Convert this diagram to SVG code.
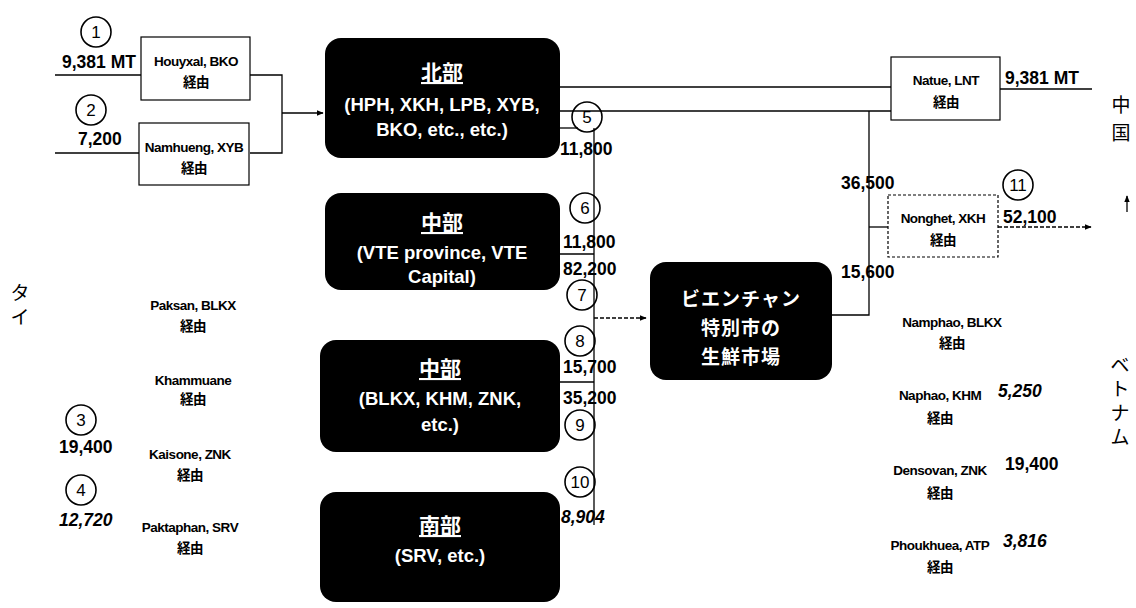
<svg xmlns="http://www.w3.org/2000/svg" width="1136" height="608" viewBox="0 0 1136 608">
<defs>
<marker id="ah" viewBox="0 0 10 10" refX="9" refY="5" markerWidth="7" markerHeight="7" orient="auto" markerUnits="userSpaceOnUse">
<path d="M0,1 L10,5 L0,9 z" fill="#000"/>
</marker>
<style>
text{font-family:"Liberation Sans",Arial,"Noto Sans CJK JP",sans-serif;fill:#000}
.sm{font-size:13.5px;font-weight:bold;text-anchor:middle;letter-spacing:-0.5px}
.num{font-size:17.5px;font-weight:bold}
.it{font-style:italic}
.cn{font-size:17px;text-anchor:middle}
.big{font-size:18.5px;font-weight:bold;fill:#fff;text-anchor:middle}
.hd{font-size:21px;font-weight:bold;fill:#fff;text-anchor:middle;text-decoration:underline}
.mk{font-size:19px;font-weight:bold;fill:#fff;text-anchor:middle;letter-spacing:1px}
.cty{font-size:19px;text-anchor:middle}
.bx{fill:#fff;stroke:#000;stroke-width:1.2}
.dbx{fill:#fff;stroke:#000;stroke-width:1.2;stroke-dasharray:3 2}
.blk{fill:#000}
.c{fill:none;stroke:#000;stroke-width:1.6}
.ln{fill:none;stroke:#000;stroke-width:1.3}
</style>
</defs>
<rect width="1136" height="608" fill="#fff"/>

<g id="connectors">
<path class="ln" d="M55,75 H141"/>
<path class="ln" d="M55,153 H139"/>
<path class="ln" d="M250,75 H282 V153 H250"/>
<path class="ln" d="M282,113 H323" stroke-width="2" marker-end="url(#ah)"/>
<path class="ln" d="M560,87 H891"/>
<path class="ln" d="M560,111 H891"/>
<path class="ln" d="M1000,89 H1092"/>
<path class="ln" d="M869,111 V315 H832"/>
<path class="ln" d="M869,227 H888"/>
<path class="ln" d="M998,227 H1091" stroke-dasharray="4 2" marker-end="url(#ah)"/>
<path class="ln" d="M560,128 H578"/>
<path class="ln" d="M594,128 V525"/>
<path class="ln" d="M560,254 H594"/>
<path class="ln" d="M555,382 H594"/>
<path class="ln" d="M594,318 H646" stroke-dasharray="4 2" marker-end="url(#ah)"/>
<path class="ln" d="M1127,212 V196" marker-end="url(#ah)"/>
</g>

<g id="n1">
<circle class="c" cx="96" cy="32" r="15"/>
<text class="cn" x="96" y="38">1</text>
<text class="num" x="62" y="68">9,381 MT</text>
</g>
<g id="houyxal">
<rect class="bx" x="141" y="37" width="109" height="63"/>
<text class="sm" x="196" y="66">Houyxal, BKO</text>
<text class="sm" x="196" y="87">経由</text>
</g>
<g id="n2">
<circle class="c" cx="91" cy="110" r="15"/>
<text class="cn" x="91" y="116">2</text>
<text class="num" x="78" y="145">7,200</text>
</g>
<g id="namhueng">
<rect class="bx" x="139" y="123" width="110" height="62"/>
<text class="sm" x="194" y="152">Namhueng, XYB</text>
<text class="sm" x="194" y="173">経由</text>
</g>

<g id="north">
<rect class="blk" x="325" y="38" width="235" height="120" rx="16"/>
<text class="hd" x="442" y="80">北部</text>
<text class="big" x="442" y="111">(HPH, XKH, LPB, XYB,</text>
<text class="big" x="442" y="136">BKO, etc., etc.)</text>
</g>
<g id="central1">
<rect class="blk" x="325" y="193" width="235" height="97" rx="16"/>
<text class="hd" x="442" y="230">中部</text>
<text class="big" x="442" y="259">(VTE province, VTE</text>
<text class="big" x="442" y="283">Capital)</text>
</g>
<g id="central2">
<rect class="blk" x="320" y="340" width="240" height="112" rx="16"/>
<text class="hd" x="440" y="376">中部</text>
<text class="big" x="440" y="405">(BLKX, KHM, ZNK,</text>
<text class="big" x="440" y="431">etc.)</text>
</g>
<g id="south">
<rect class="blk" x="320" y="492" width="240" height="110" rx="16"/>
<text class="hd" x="440" y="533">南部</text>
<text class="big" x="440" y="562">(SRV, etc.)</text>
</g>

<g id="n5">
<circle class="c" cx="587" cy="117" r="15"/>
<text class="cn" x="587" y="123">5</text>
<text class="num" x="560" y="155">11,800</text>
</g>
<g id="n6">
<circle class="c" cx="585" cy="208" r="15"/>
<text class="cn" x="585" y="214">6</text>
<text class="num" x="563" y="248">11,800</text>
<text class="num" x="563" y="275">82,200</text>
</g>
<g id="n7">
<circle class="c" cx="582" cy="295" r="15"/>
<text class="cn" x="582" y="301">7</text>
</g>
<g id="n8">
<circle class="c" cx="580" cy="341" r="15"/>
<text class="cn" x="580" y="347">8</text>
<text class="num" x="563" y="373">15,700</text>
<text class="num" x="563" y="404">35,200</text>
</g>
<g id="n9">
<circle class="c" cx="580" cy="425" r="15"/>
<text class="cn" x="580" y="431">9</text>
</g>
<g id="n10">
<circle class="c" cx="580" cy="482" r="15"/>
<text class="cn" x="580" y="488">10</text>
<text class="num it" x="561" y="523">8,904</text>
</g>

<g id="market">
<rect class="blk" x="650" y="262" width="182" height="118" rx="16"/>
<text class="mk" x="741" y="306">ビエンチャン</text>
<text class="mk" x="741" y="335">特別市の</text>
<text class="mk" x="741" y="364">生鮮市場</text>
</g>

<g id="natue">
<rect class="bx" x="891" y="57" width="109" height="63"/>
<text class="sm" x="946" y="85">Natue, LNT</text>
<text class="sm" x="946" y="107">経由</text>
<text class="num" x="1005" y="84">9,381 MT</text>
</g>
<g id="nonghet">
<rect class="dbx" x="888" y="195" width="110" height="62"/>
<text class="sm" x="943" y="223">Nonghet, XKH</text>
<text class="sm" x="943" y="245">経由</text>
</g>
<g id="n11">
<circle class="c" cx="1018" cy="185" r="15"/>
<text class="cn" x="1018" y="191">11</text>
<text class="num" x="1003" y="223">52,100</text>
</g>
<text class="num" x="841" y="189">36,500</text>
<text class="num" x="841" y="278">15,600</text>

<g id="left-routes">
<text class="sm" x="193" y="310">Paksan, BLKX</text>
<text class="sm" x="193" y="331">経由</text>
<text class="sm" x="193" y="385">Khammuane</text>
<text class="sm" x="193" y="404">経由</text>
<text class="sm" x="190" y="459">Kaisone, ZNK</text>
<text class="sm" x="190" y="480">経由</text>
<text class="sm" x="190" y="532">Paktaphan, SRV</text>
<text class="sm" x="190" y="553">経由</text>
</g>
<g id="n3">
<circle class="c" cx="81" cy="420" r="15"/>
<text class="cn" x="81" y="426">3</text>
<text class="num" x="59" y="453">19,400</text>
</g>
<g id="n4">
<circle class="c" cx="81" cy="490" r="15"/>
<text class="cn" x="81" y="496">4</text>
<text class="num it" x="59" y="526">12,720</text>
</g>

<g id="right-routes">
<text class="sm" x="952" y="327">Namphao, BLKX</text>
<text class="sm" x="952" y="348">経由</text>
<text class="sm" x="940" y="400">Naphao, KHM</text>
<text class="sm" x="940" y="423">経由</text>
<text class="num it" x="998" y="397">5,250</text>
<text class="sm" x="940" y="475">Densovan, ZNK</text>
<text class="sm" x="940" y="498">経由</text>
<text class="num" x="1005" y="470">19,400</text>
<text class="sm" x="940" y="550">Phoukhuea, ATP</text>
<text class="sm" x="940" y="572">経由</text>
<text class="num it" x="1003" y="547">3,816</text>
</g>

<g id="countries">
<text class="cty" x="1121" y="112">中</text>
<text class="cty" x="1121" y="140">国</text>
<text class="cty" x="20" y="300">タ</text>
<text class="cty" x="20" y="324">イ</text>
<text class="cty" x="1120" y="372">ベ</text>
<text class="cty" x="1120" y="396">ト</text>
<text class="cty" x="1120" y="420">ナ</text>
<text class="cty" x="1120" y="444">ム</text>
</g>
</svg>
